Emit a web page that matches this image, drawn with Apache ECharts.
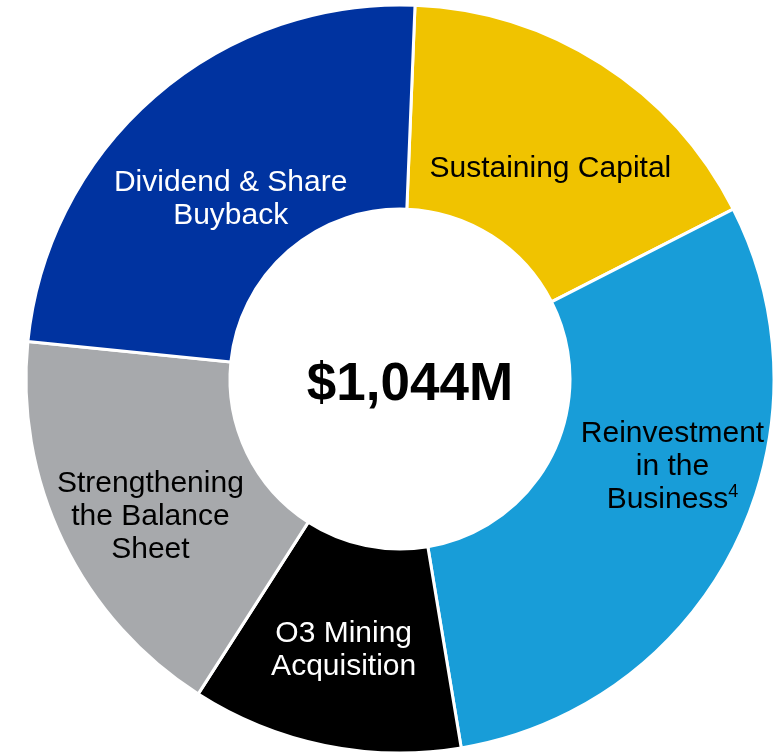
<!DOCTYPE html>
<html>
<head>
<meta charset="utf-8">
<script src="https://cdn.jsdelivr.net/npm/echarts@6/dist/echarts.min.js"></script>
<style>
  html, body { margin: 0; padding: 0; background: #fff; }
  #chart { width: 774px; height: 754px; }
</style>
</head>
<body>
<div id="chart"></div>
<script>
  // capital allocation, $M (clockwise from 12 o'clock)
  var categories = ['Sustaining Capital', 'Reinvestment\nin the\nBusiness', 'O3 Mining\nAcquisition', 'Strengthening\nthe Balance\nSheet', 'Dividend & Share\nBuyback'];
  var footnotes = ['', '4', '', '', ''];
  var values = [176, 312, 122, 183, 251];
  var totalLabel = '$1,044M';

  var colors = ['#F0C300', '#189DD8', '#000000', '#A7A9AC', '#0033A0'];
  var labelColors = ['#000', '#000', '#fff', '#000', '#fff'];
  // nudges from the default inside-label spot
  var labelShift = [[2, 21], [27, -36], [-1, 2], [-2, 18], [11, 28]];

  var FONT = '"Liberation Sans", Arial, sans-serif';

  var chart = echarts.init(document.getElementById('chart'));

  var data = values.map(function (v, i) {
    return {
      name: categories[i],
      value: v,
      itemStyle: { color: colors[i] },
      label: { color: labelColors[i] }
    };
  });

  chart.setOption({
    backgroundColor: '#fff',
    animation: false,
    graphic: [{
      type: 'text',
      x: 410,
      y: 385,
      style: {
        text: totalLabel,
        fontSize: 53,
        fontWeight: 'bold',
        fontFamily: FONT,
        fill: '#000',
        align: 'center',
        verticalAlign: 'middle'
      }
    }],
    series: [{
      type: 'pie',
      center: [400, 379],
      radius: [170, 374],
      startAngle: 87.7,
      clockwise: true,
      avoidLabelOverlap: false,
      emphasis: { disabled: true },
      itemStyle: { borderColor: '#fff', borderWidth: 3 },
      label: {
        show: true,
        position: 'inside',
        fontFamily: FONT,
        fontSize: 30,
        lineHeight: 33,
        align: 'center',
        formatter: function (p) {
          var t = p.name;
          if (footnotes[p.dataIndex]) t += '{sup|' + footnotes[p.dataIndex] + '}';
          return t;
        },
        rich: {
          sup: { fontSize: 18, lineHeight: 22, verticalAlign: 'top', fontFamily: FONT, color: '#000' }
        }
      },
      labelLine: { show: false },
      labelLayout: function (p) {
        var s = labelShift[p.dataIndex];
        return { dx: s[0], dy: s[1] };
      },
      data: data
    }]
  });
</script>
</body>
</html>
